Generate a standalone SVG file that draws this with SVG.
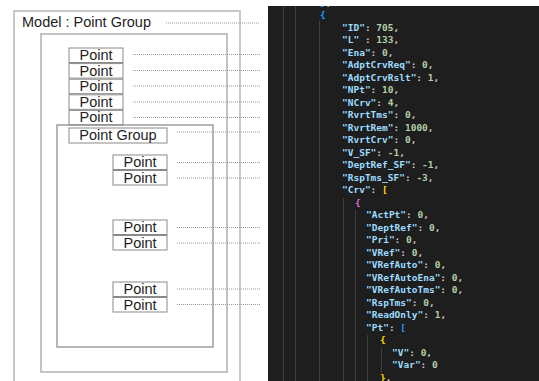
<svg xmlns="http://www.w3.org/2000/svg" width="539" height="381" viewBox="0 0 539 381">
  <style>
    .frame0 { fill: none; stroke: #c8c8c8; stroke-width: 2; }
    .frame1 { fill: none; stroke: #b0b0b0; stroke-width: 1.5; }
    .frame2 { fill: none; stroke: #858585; stroke-width: 1.2; }
    .box { fill: #ffffff; stroke: #8a8a8a; stroke-width: 1; }
    .lbl { font-family: "Liberation Sans", Arial, sans-serif; font-size: 14.5px; fill: #1e1e1e; }
    .mid { text-anchor: middle; }
    .link { fill: none; stroke: #9a9a9a; stroke-width: 1; stroke-dasharray: 1 1; }
    .code { font-family: "DejaVu Sans Mono", "Liberation Mono", monospace; font-size: 9.5px; font-weight: bold; white-space: pre; fill: #cccccc; }
    .k { fill: #9cdcfe; }
    .n { fill: #b5cea8; }
    .b1 { fill: #179fff; }
    .b2 { fill: #ffd700; }
    .b3 { fill: #da70d6; }
    .guide { stroke: #404040; stroke-width: 1; }
  </style>
  <defs>
    <clipPath id="editorClip">
      <rect x="268" y="6" width="271" height="375"/>
    </clipPath>
  </defs>

  <rect x="0" y="0" width="539" height="381" fill="#ffffff"/>

  <!-- model structure -->
  <g id="model">
    <rect class="frame0" x="14" y="11" width="226" height="380"/>
    <text class="lbl" x="22" y="27">Model : Point Group</text>
  </g>
  <g id="curve-frame">
    <rect class="frame1" x="41" y="34" width="186" height="338"/>
  </g>
  <g id="point-1"><rect class="box" x="69" y="48" width="54" height="14.5"/><text class="lbl mid" x="96" y="60">Point</text></g>
  <g id="point-2"><rect class="box" x="69" y="63.6" width="54" height="14.5"/><text class="lbl mid" x="96" y="75.6">Point</text></g>
  <g id="point-3"><rect class="box" x="69" y="79.2" width="54" height="14.5"/><text class="lbl mid" x="96" y="91.2">Point</text></g>
  <g id="point-4"><rect class="box" x="69" y="94.8" width="54" height="14.5"/><text class="lbl mid" x="96" y="106.8">Point</text></g>
  <g id="point-5"><rect class="box" x="69" y="110.4" width="54" height="14.5"/><text class="lbl mid" x="96" y="122.4">Point</text></g>

  <g id="point-group">
    <rect class="frame2" x="57" y="125" width="156" height="222"/>
    <rect class="box" x="69" y="128" width="98" height="15"/>
    <text class="lbl mid" x="118" y="140">Point Group</text>
  </g>
  <g id="curve-point-1"><rect class="box" x="113" y="155" width="54" height="14.5"/><text class="lbl mid" x="140" y="167">Point</text></g>
  <g id="curve-point-2"><rect class="box" x="113" y="170.5" width="54" height="14.5"/><text class="lbl mid" x="140" y="182.5">Point</text></g>
  <g id="curve-point-3"><rect class="box" x="113" y="220" width="54" height="14.5"/><text class="lbl mid" x="140" y="232">Point</text></g>
  <g id="curve-point-4"><rect class="box" x="113" y="235.5" width="54" height="14.5"/><text class="lbl mid" x="140" y="247.5">Point</text></g>
  <g id="curve-point-5"><rect class="box" x="113" y="282" width="54" height="14.5"/><text class="lbl mid" x="140" y="294">Point</text></g>
  <g id="curve-point-6"><rect class="box" x="113" y="297.5" width="54" height="14.5"/><text class="lbl mid" x="140" y="309.5">Point</text></g>

  <!-- dotted leaders towards the JSON fields -->
  <g id="connectors">
    <line class="link" x1="166" y1="23" x2="260" y2="23"/>
    <line class="link" x1="133" y1="54.5" x2="260" y2="54.5"/>
    <line class="link" x1="133" y1="70.5" x2="260" y2="70.5"/>
    <line class="link" x1="133" y1="86" x2="260" y2="86"/>
    <line class="link" x1="133" y1="102" x2="260" y2="102"/>
    <line class="link" x1="133" y1="117.5" x2="260" y2="117.5"/>
    <line class="link" x1="177" y1="132" x2="260" y2="132"/>
    <line class="link" x1="177" y1="162.5" x2="260" y2="162.5"/>
    <line class="link" x1="177" y1="178" x2="260" y2="178"/>
    <line class="link" x1="177" y1="227.5" x2="260" y2="227.5"/>
    <line class="link" x1="177" y1="243" x2="260" y2="243"/>
    <line class="link" x1="177" y1="289" x2="260" y2="289"/>
    <line class="link" x1="177" y1="304.5" x2="260" y2="304.5"/>
  </g>

  <!-- JSON editor panel -->
  <g id="editor" clip-path="url(#editorClip)">
    <rect x="268" y="6" width="271" height="375" fill="#1e1e1e"/>
    <line class="guide" x1="283.5" y1="6" x2="283.5" y2="381"/>
    <line class="guide" x1="295.5" y1="6" x2="295.5" y2="381"/>
    <line class="guide" x1="319.5" y1="21" x2="319.5" y2="381"/>
    <line class="guide" x1="343.5" y1="198" x2="343.5" y2="381"/>
    <line class="guide" x1="355.5" y1="210" x2="355.5" y2="381"/>
    <line class="guide" x1="367.5" y1="335" x2="367.5" y2="381"/>
    <line class="guide" x1="381.5" y1="348" x2="381.5" y2="373"/>

    <text class="code" x="320" y="5.5"><tspan class="b1">}</tspan>,</text>
    <text class="code" x="320" y="18"><tspan class="b1">{</tspan></text>
    <text class="code" x="342" y="30.5"><tspan class="k">"ID"</tspan>: <tspan class="n">705</tspan>,</text>
    <text class="code" x="342" y="43"><tspan class="k">"L"</tspan> : <tspan class="n">133</tspan>,</text>
    <text class="code" x="342" y="55.5"><tspan class="k">"Ena"</tspan>: <tspan class="n">0</tspan>,</text>
    <text class="code" x="342" y="68"><tspan class="k">"AdptCrvReq"</tspan>: <tspan class="n">0</tspan>,</text>
    <text class="code" x="342" y="80.5"><tspan class="k">"AdptCrvRslt"</tspan>: <tspan class="n">1</tspan>,</text>
    <text class="code" x="342" y="93"><tspan class="k">"NPt"</tspan>: <tspan class="n">10</tspan>,</text>
    <text class="code" x="342" y="105.5"><tspan class="k">"NCrv"</tspan>: <tspan class="n">4</tspan>,</text>
    <text class="code" x="342" y="118"><tspan class="k">"RvrtTms"</tspan>: <tspan class="n">0</tspan>,</text>
    <text class="code" x="342" y="130.5"><tspan class="k">"RvrtRem"</tspan>: <tspan class="n">1000</tspan>,</text>
    <text class="code" x="342" y="143"><tspan class="k">"RvrtCrv"</tspan>: <tspan class="n">0</tspan>,</text>
    <text class="code" x="342" y="155.5"><tspan class="k">"V_SF"</tspan>: <tspan class="n">-1</tspan>,</text>
    <text class="code" x="342" y="168"><tspan class="k">"DeptRef_SF"</tspan>: <tspan class="n">-1</tspan>,</text>
    <text class="code" x="342" y="180.5"><tspan class="k">"RspTms_SF"</tspan>: <tspan class="n">-3</tspan>,</text>
    <text class="code" x="342" y="193"><tspan class="k">"Crv"</tspan>: <tspan class="b2">[</tspan></text>
    <text class="code" x="355" y="205.5"><tspan class="b3">{</tspan></text>
    <text class="code" x="366" y="218"><tspan class="k">"ActPt"</tspan>: <tspan class="n">0</tspan>,</text>
    <text class="code" x="366" y="230.5"><tspan class="k">"DeptRef"</tspan>: <tspan class="n">0</tspan>,</text>
    <text class="code" x="366" y="243"><tspan class="k">"Pri"</tspan>: <tspan class="n">0</tspan>,</text>
    <text class="code" x="366" y="255.5"><tspan class="k">"VRef"</tspan>: <tspan class="n">0</tspan>,</text>
    <text class="code" x="366" y="268"><tspan class="k">"VRefAuto"</tspan>: <tspan class="n">0</tspan>,</text>
    <text class="code" x="366" y="280.5"><tspan class="k">"VRefAutoEna"</tspan>: <tspan class="n">0</tspan>,</text>
    <text class="code" x="366" y="293"><tspan class="k">"VRefAutoTms"</tspan>: <tspan class="n">0</tspan>,</text>
    <text class="code" x="366" y="305.5"><tspan class="k">"RspTms"</tspan>: <tspan class="n">0</tspan>,</text>
    <text class="code" x="366" y="318"><tspan class="k">"ReadOnly"</tspan>: <tspan class="n">1</tspan>,</text>
    <text class="code" x="366" y="330.5"><tspan class="k">"Pt"</tspan>: <tspan class="b1">[</tspan></text>
    <text class="code" x="380" y="343"><tspan class="b2">{</tspan></text>
    <text class="code" x="392" y="355.5"><tspan class="k">"V"</tspan>: <tspan class="n">0</tspan>,</text>
    <text class="code" x="392" y="368"><tspan class="k">"Var"</tspan>: <tspan class="n">0</tspan></text>
    <text class="code" x="380" y="380.5"><tspan class="b2">}</tspan>,</text>
  </g>
</svg>
